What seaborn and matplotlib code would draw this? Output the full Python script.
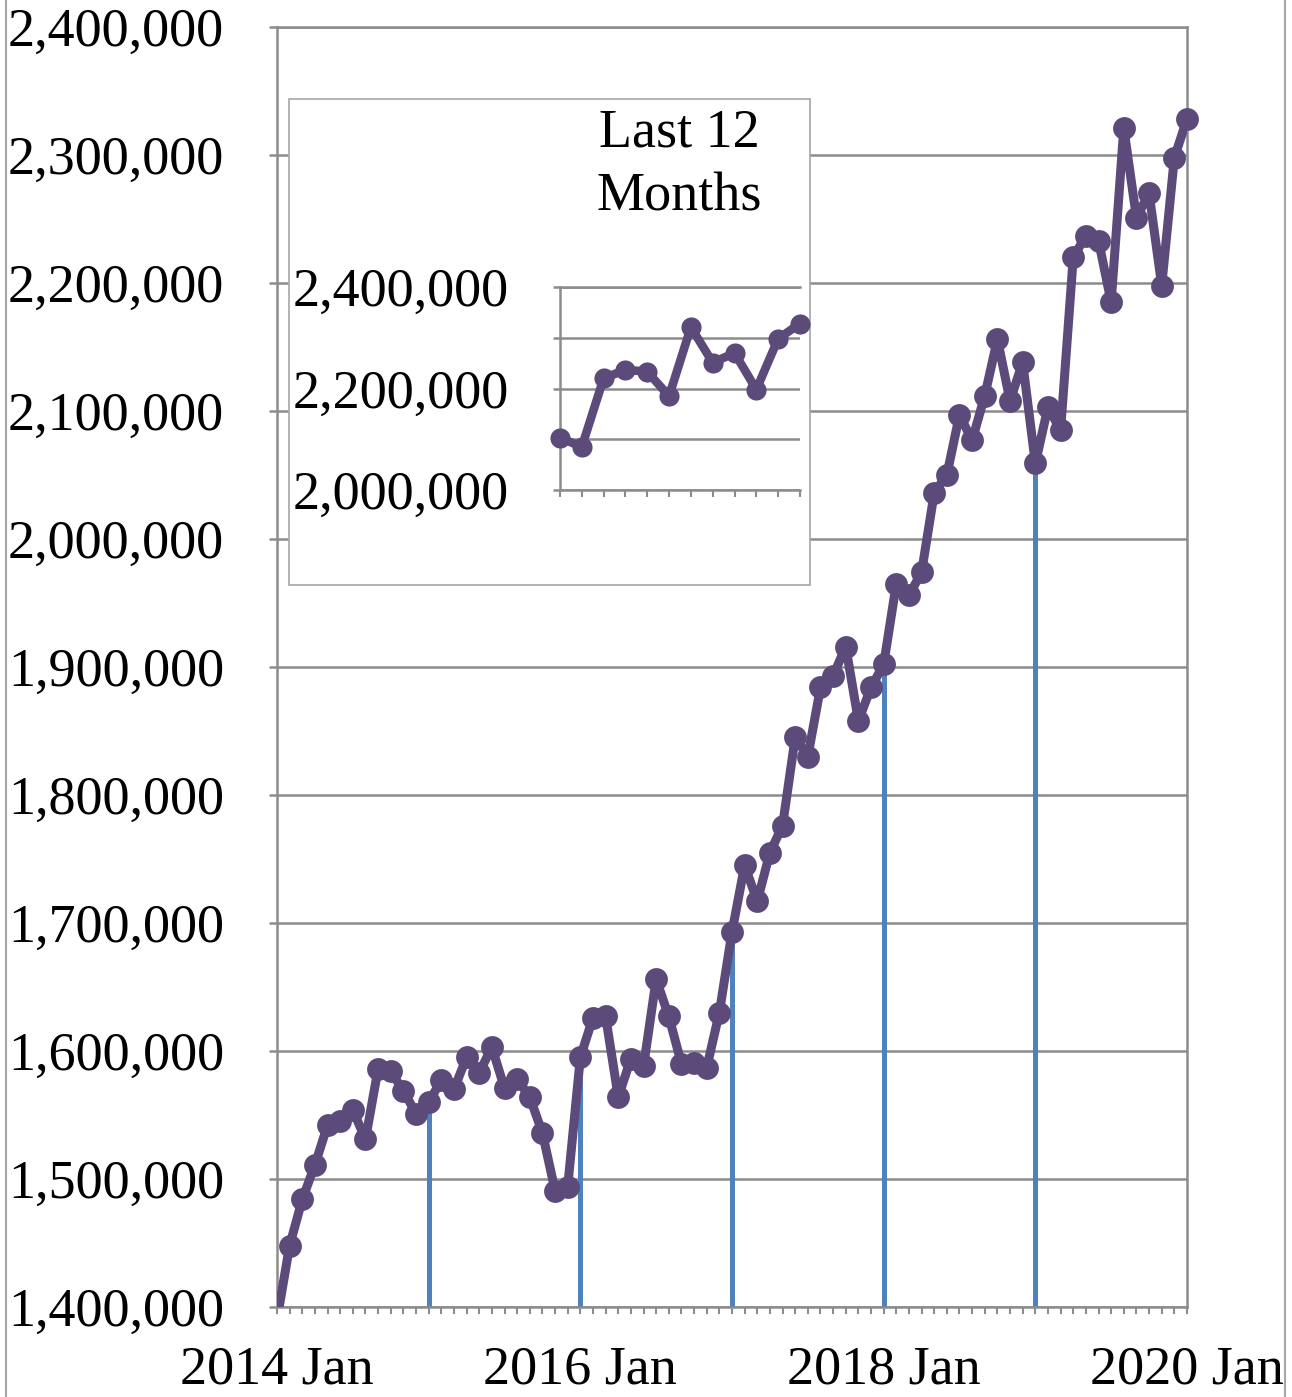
#!/usr/bin/env python3
"""Monthly series 2014-2020 with a 'last 12 months' inset."""

import numpy as np
import pandas as pd
import matplotlib
matplotlib.use("Agg")
import matplotlib.pyplot as plt
import seaborn as sns
from matplotlib.patches import Rectangle
from matplotlib.lines import Line2D
from matplotlib.ticker import FuncFormatter, MultipleLocator

# monthly values, 2014 Jan .. 2020 Jan
values = [
    1390000, 1448000, 1484000, 1511000, 1542000, 1545000, 1554000, 1531000, 1586000, 1584000, 1569000, 1551000,  # 2014
    1560000, 1577000, 1570000, 1595000, 1583000, 1603000, 1571000, 1578000, 1564000, 1536000, 1491000, 1494000,  # 2015
    1595000, 1626000, 1627000, 1564000, 1594000, 1588000, 1656000, 1627000, 1590000, 1591000, 1587000, 1630000,  # 2016
    1693000, 1745000, 1717000, 1755000, 1776000, 1845000, 1830000, 1884000, 1893000, 1916000, 1858000, 1884000,  # 2017
    1902000, 1965000, 1956000, 1974000, 2036000, 2050000, 2097000, 2077000, 2112000, 2156000, 2108000, 2138000,  # 2018
    2059000, 2103000, 2085000, 2220000, 2237000, 2233000, 2185000, 2321000, 2251000, 2270000, 2198000, 2298000,  # 2019
    2328000,  # 2020 Jan
]
label_months = [0, 24, 48, 72]
label_text = ["2014 Jan", "2016 Jan", "2018 Jan", "2020 Jan"]
january_months = [12, 24, 36, 48, 60]
inset_values = values[-12:]
inset_title = "Last 12\nMonths"

PURPLE = "#5b4a7a"
BLUE = "#4f81bd"
GRID = "#8c8c8c"
BORDER = "#a6a6a6"
FS = 39

W, H = 1292, 1397


def box(x0, y0, x1, y1):
    """Pixel box (top-left origin) -> figure fraction rect."""
    return [x0 / W, 1 - y1 / H, (x1 - x0) / W, (y1 - y0) / H]


def fmt_thousands(v, pos):
    return f"{v:,.0f}"


sns.set_style("white")
plt.rcParams['font.family'] = ['Liberation Serif', 'DejaVu Serif']
plt.rcParams['text.color'] = 'black'
plt.rcParams['xtick.labelcolor'] = 'black'
plt.rcParams['ytick.labelcolor'] = 'black'

fig = plt.figure(figsize=(W / 100, H / 100), dpi=100)

# ---- main chart ----
ax = fig.add_axes(box(277, 27, 1187, 1307))
ymin, ymax = 1400000, 2400000
df = pd.DataFrame({"month": np.arange(len(values)), "value": values})

ax.vlines(january_months, ymin, [values[m] for m in january_months],
          color=BLUE, lw=3.6, zorder=2)
sns.lineplot(data=df, x="month", y="value", color=PURPLE, lw=6.5, ax=ax,
             zorder=3, solid_joinstyle="round", solid_capstyle="round")
shown = df[df["value"] >= ymin]
sns.scatterplot(data=shown, x="month", y="value", color=PURPLE, s=270,
                linewidth=0, ax=ax, zorder=4, clip_on=False)

ax.set_xlim(0, 72)
ax.set_ylim(ymin, ymax)
ax.set_xlabel("")
ax.set_ylabel("")
ax.set_yticks(np.arange(ymin, ymax + 1, 100000))
ax.yaxis.set_major_formatter(FuncFormatter(fmt_thousands))
ax.set_xticks(label_months)
ax.set_xticklabels(label_text)
ax.xaxis.set_minor_locator(MultipleLocator(1))
ax.yaxis.grid(True, color=GRID, lw=1.8)
ax.set_axisbelow(True)
for s in ax.spines.values():
    s.set_color(GRID)
    s.set_linewidth(1.8)
ax.tick_params(axis="y", left=True, direction="out", length=6, width=1.8,
               color=GRID, pad=32, labelsize=FS)
ax.tick_params(axis="x", which="both", bottom=True, direction="out", length=5,
               width=1.5, color=GRID)
ax.tick_params(axis="x", which="major", pad=22, labelsize=FS)

# ---- inset ----
fig.add_artist(Rectangle((289 / W, 1 - 585 / H), 521 / W, 486 / H,
                         transform=fig.transFigure, facecolor="white",
                         edgecolor=BORDER, lw=1.2, zorder=1))
fig.text(679 / W, 1 - 165 / H, inset_title, ha="center", va="center",
         fontsize=FS, linespacing=1.35, zorder=5)

ax2 = fig.add_axes(box(560, 287, 800, 490), zorder=2)
idf = pd.DataFrame({"month": np.arange(len(inset_values)), "value": inset_values})
sns.lineplot(data=idf, x="month", y="value", color=PURPLE, lw=6.2, ax=ax2,
             zorder=3, solid_joinstyle="round", solid_capstyle="round",
             clip_on=False)
sns.scatterplot(data=idf, x="month", y="value", color=PURPLE, s=210,
                linewidth=0, ax=ax2, zorder=4, clip_on=False)
ax2.set_xlim(0, 11)
ax2.set_ylim(2000000, 2400000)
ax2.set_xlabel("")
ax2.set_ylabel("")
ax2.set_yticks(np.arange(2000000, 2400001, 100000))
ax2.yaxis.set_major_formatter(FuncFormatter(
    lambda v, pos: f"{v:,.0f}" if round(v / 100000) % 2 == 0 else ""))
ax2.set_xticks(np.arange(len(inset_values)))
ax2.set_xticklabels([])
ax2.yaxis.grid(True, color=GRID, lw=1.8)
ax2.set_axisbelow(True)
ax2.spines["right"].set_visible(False)
for name in ("left", "bottom", "top"):
    ax2.spines[name].set_color(GRID)
    ax2.spines[name].set_linewidth(1.8)
ax2.tick_params(axis="y", left=True, direction="out", length=5, width=1.8,
                color=GRID, pad=32, labelsize=FS)
ax2.tick_params(axis="x", bottom=True, direction="out", length=5, width=1.5,
                color=GRID)

# chart-area border lines at left and right edges
for xp in (6, 1285):
    fig.add_artist(Line2D([xp / W, xp / W], [0, 1], transform=fig.transFigure,
                          color=BORDER, lw=1.5))

fig.savefig("out.png", dpi=100)
